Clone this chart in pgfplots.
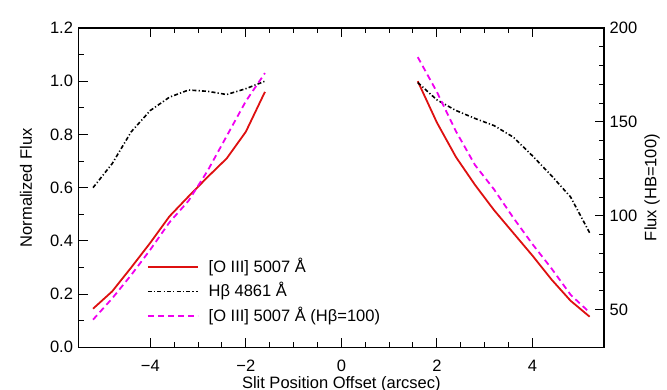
\documentclass[border=0pt]{standalone}
\usepackage{fontspec}
\setmainfont{Liberation Sans}
\usepackage{pgfplots}
\pgfplotsset{compat=1.18}
\usetikzlibrary{calc}

\definecolor{oiiired}{RGB}{222,16,16}
\definecolor{oiiimag}{RGB}{240,0,240}

% normalised flux, left axis
\pgfplotstableread{
x     red    hb
-5.2  0.145  0.600
-4.8  0.210  0.690
-4.4  0.300  0.810
-4.0  0.393  0.890
-3.6  0.492  0.940
-3.2  0.567  0.967
-2.8  0.640  0.962
-2.4  0.710  0.950
-2.0  0.810  0.972
-1.6  0.960  1.000
0.0   nan    nan
1.6   1.000  0.995
2.0   0.845  0.930
2.4   0.715  0.890
2.8   0.610  0.860
3.2   0.515  0.833
3.6   0.430  0.790
4.0   0.345  0.720
4.4   0.255  0.645
4.8   0.175  0.565
5.2   0.115  0.430
}\normtab

% [O III] relative to Hbeta=100, right axis
\pgfplotstableread{
x     ratio
-5.2  44.7
-4.8  56.0
-4.4  68.5
-4.0  82.0
-3.6  96.5
-3.2  108.0
-2.8  124.0
-2.4  142.5
-2.0  161.0
-1.6  176.0
0.0   nan
1.6   184.5
2.0   166.0
2.4   145.0
2.8   127.0
3.2   114.0
3.6   99.0
4.0   85.0
4.4   72.0
4.8   58.0
5.2   48.5
}\ratiotab

\begin{document}
\fontsize{16.5}{19.8}\selectfont
\begin{tikzpicture}
\pgfplotsset{
  base/.style={
    scale only axis, width=525.3pt, height=319.3pt,
    xmin=-5.5, xmax=5.5,
    tick align=inside, major tick length=9pt, minor tick length=5pt,
    tick style={black, line width=1pt},
    axis line style={line width=1.2pt},
    tick label style={font=\fontsize{16.5}{19.8}\selectfont},
    label style={font=\fontsize{16.5}{19.8}\selectfont},
    unbounded coords=jump,
  },
  hbline/.style={black, line width=1.6pt, dash pattern=on 4pt off 2.2pt on 1.2pt off 2.2pt},
}
\begin{axis}[base, name=ax,
    ymin=0, ymax=1.2,
    ytick={0,0.2,0.4,0.6,0.8,1.0,1.2},
    yticklabels={0.0,0.2,0.4,0.6,0.8,1.0,1.2},
    minor y tick num=1, ytick pos=left,
    xtick={-4,-2,0,2,4}, xticklabels={−4,−2,0,2,4},
    minor x tick num=3,
    xticklabel style={yshift=-7pt},
    xlabel={Slit Position Offset (arcsec)},
    ylabel={Normalized Flux},
    every axis x label/.style={at={(rel axis cs:0.5,0)}, anchor=north, yshift=-24pt},
    every axis y label/.style={at={(rel axis cs:0,0.5)}, xshift=-52.7pt, rotate=90, anchor=center},
  ]
  \addplot[oiiired, line width=1.8pt] table[x=x, y=red] {\normtab};
  \addplot[hbline] table[x=x, y=hb] {\normtab};
\end{axis}
\begin{axis}[base, at={(ax.south west)}, anchor=south west,
    axis x line=none,
    ymin=30, ymax=200, ytick={50,100,150,200},
    yticklabels={50,100,150,200},
    minor y tick num=4, ytick pos=right,
    ylabel={Flux (HB=100)},
    every axis y label/.style={at={(rel axis cs:1,0.5)}, xshift=48pt, rotate=90, anchor=center},
    legend cell align=left,
    legend image code/.code={\draw[#1] (0pt,0pt) -- (50pt,0pt);},
    legend style={at={(rel axis cs:0.1294,0.276)}, anchor=north west,
      draw=none, fill=none, inner sep=0pt,
      nodes={inner sep=0pt, text height=13pt, text depth=2pt},
      row sep=9.6pt, column sep=10pt,
      font=\fontsize{16.5}{19.8}\selectfont},
  ]
  \addlegendimage{oiiired, line width=1.8pt}
  \addlegendentry{{}[O III] 5007 Å}
  \addlegendimage{hbline}
  \addlegendentry{Hβ 4861 Å}
  \addplot[oiiimag, line width=1.8pt, dash pattern=on 6pt off 4pt] table[x=x, y=ratio] {\ratiotab};
  \addlegendentry{{}[O III] 5007 Å (Hβ=100)}
\end{axis}
\pgfresetboundingbox
\path ($(ax.south west)+(-78.7pt,-41.7pt)$) rectangle ++(667pt,389pt);
\end{tikzpicture}
\end{document}
